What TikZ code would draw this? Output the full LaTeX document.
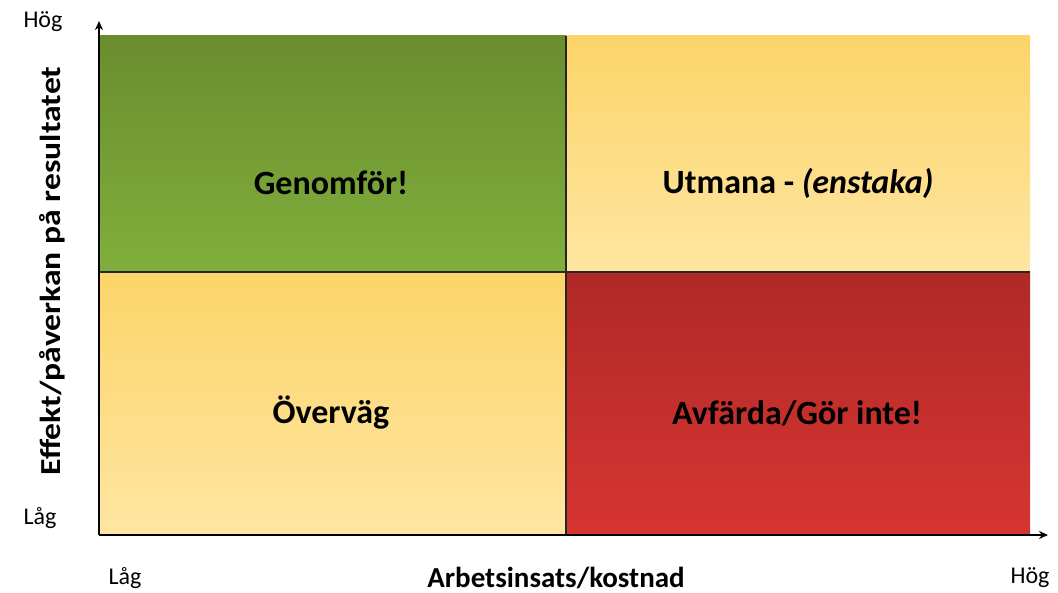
\documentclass[tikz,border=0pt]{standalone}
\usepackage{fontspec}
\setmainfont{Carlito}
\usetikzlibrary{arrows.meta}
\definecolor{gtop}{HTML}{6A8D2E}
\definecolor{gbot}{HTML}{80AF3C}
\definecolor{ytop}{HTML}{FCD468}
\definecolor{ybot}{HTML}{FEE6A2}
\definecolor{rtop}{HTML}{B02926}
\definecolor{rbot}{HTML}{D63532}
\tikzset{
  qlabel/.style={font=\fontsize{34}{40}\selectfont\bfseries, text=black},
  ticklabel/.style={font=\fontsize{24}{28}\selectfont, text=black},
  axislabel/.style={font=\fontsize{29}{34}\selectfont\bfseries, text=black},
  axis/.style={line width=2pt, -{Stealth[length=9pt,width=8pt]}},
  divider/.style={line width=2pt, draw=black!85}
}
\begin{document}
\begin{tikzpicture}[x=1pt,y=-1pt]
\useasboundingbox (0,0) rectangle (1058,593);
% quadrants
\shade[top color=gtop, bottom color=gbot] (100,36) rectangle (566,272);
\shade[top color=ytop, bottom color=ybot] (566,36) rectangle (1030,272);
\shade[top color=ytop, bottom color=ybot] (100,272) rectangle (566,535);
\shade[top color=rtop, bottom color=rbot] (566,272) rectangle (1030,535);
% coordinates
\coordinate (O) at (99,535);
\coordinate (ytip) at (99,21);
\coordinate (xtip) at (1048,535);
\coordinate (hl) at (100,272);
\coordinate (hr) at (1030,272);
\coordinate (vt) at (566,36);
\coordinate (vb) at (566,535);
% dividers
\draw[divider] (hl) -- (hr);
\draw[divider] (vt) -- (vb);
% axes
\draw[axis] (O) -- (ytip);
\draw[axis] (O) -- (xtip);
% quadrant labels
\node[qlabel] (q1) at (331,183) {Genomför!};
\node[qlabel] (q2) at (798,183) {Utmana - \textit{(enstaka)}};
\node[qlabel] (q3) at (331,413) {Överväg};
\node[qlabel] (q4) at (797,413) {Avfärda/Gör inte!};
% tick labels
\node[ticklabel] (yh) at (43,22) {Hög};
\node[ticklabel] (yl) at (40,518) {Låg};
\node[ticklabel] (xl) at (125,578) {Låg};
\node[ticklabel] (xh) at (1030,578) {Hög};
% axis labels
\node[axislabel] (xlab) at (556,578) {Arbetsinsats/kostnad};
\node[axislabel, rotate=90] (ylab) at (52,271) {\scalebox{1.16}[1]{Effekt/påverkan på resultatet}};
\end{tikzpicture}
\end{document}
